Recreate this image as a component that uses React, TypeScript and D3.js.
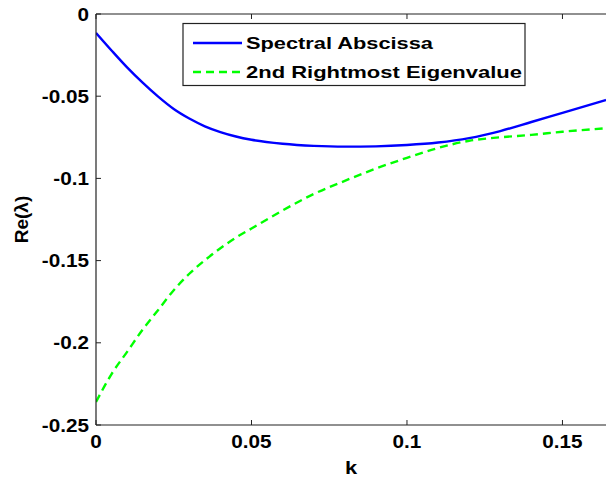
import React from "react";
import * as d3 from "d3";

const kValues = [0, 0.005, 0.01, 0.015, 0.02, 0.025, 0.03, 0.035, 0.04, 0.045, 0.05, 0.06, 0.07, 0.08, 0.09, 0.1, 0.11, 0.12, 0.13, 0.14, 0.15, 0.164];
const spectralAbscissa = [-0.0115, -0.0222, -0.0325, -0.0418, -0.0503, -0.0578, -0.0636, -0.0683, -0.0718, -0.0745, -0.0765, -0.0789, -0.0802, -0.0807, -0.0805, -0.0797, -0.0782, -0.0755, -0.0712, -0.0657, -0.0601, -0.0523];
const secondRightmost = [-0.236, -0.219, -0.2055, -0.192, -0.18, -0.168, -0.158, -0.1498, -0.1425, -0.136, -0.1305, -0.1195, -0.1095, -0.1015, -0.094, -0.0875, -0.0815, -0.0771, -0.075, -0.0735, -0.0716, -0.0695];
const xTicks = [0, 0.05, 0.1, 0.15];
const xTickLabels = ["0", "0.05", "0.1", "0.15"];
const yTicks = [0, -0.05, -0.1, -0.15, -0.2, -0.25];
const yTickLabels = ["0", "-0.05", "-0.1", "-0.15", "-0.2", "-0.25"];
const seriesNames = ["Spectral Abscissa", "2nd Rightmost Eigenvalue"];

const W = 606;
const H = 478;
const L = 96, R = 606, T = 14, B = 425;
const FONT = "'Liberation Sans', Arial, Helvetica, sans-serif";

export default function App() {
  const x = d3.scaleLinear().domain([0, 0.164]).range([L, R]);
  const y = d3.scaleLinear().domain([-0.25, 0]).range([B, T]);
  const line = d3
    .line<[number, number]>()
    .x((d) => x(d[0]))
    .y((d) => y(d[1]))
    .curve(d3.curveMonotoneX);
  const blue = line(kValues.map((k, i) => [k, spectralAbscissa[i]]) as [number, number][]) || "";
  const green = line(kValues.map((k, i) => [k, secondRightmost[i]]) as [number, number][]) || "";
  const sx = 1.15;

  return (
    <svg width={W} height={H} style={{ position: "absolute", left: 0, top: 0, background: "#fff" }} fontFamily={FONT}>
      <rect x={0} y={0} width={W} height={H} fill="#fff" />
      <defs>
        <clipPath id="plotclip">
          <rect x={L} y={T} width={R - L} height={B - T} />
        </clipPath>
      </defs>
      <g clipPath="url(#plotclip)">
        <path d={blue} fill="none" stroke="#0000ff" strokeWidth={2.4} />
        <path d={green} fill="none" stroke="#00ff00" strokeWidth={2.4} strokeDasharray="8,5" />
      </g>
      <line x1={L} x2={R} y1={T} y2={T} stroke="#222" strokeWidth={1.2} />
      <line x1={L} x2={R} y1={B} y2={B} stroke="#222" strokeWidth={1.2} />
      <line x1={L} x2={L} y1={T} y2={B} stroke="#222" strokeWidth={1.2} />
      {xTicks.map((t, i) => (
        <g key={"xt" + i}>
          <line x1={x(t)} x2={x(t)} y1={B} y2={B - 5} stroke="#222" strokeWidth={1} />
          <line x1={x(t)} x2={x(t)} y1={T} y2={T + 5} stroke="#222" strokeWidth={1} />
          <text
            transform={`translate(${x(t)},448) scale(${sx},1)`}
            textAnchor="middle"
            fontSize={18}
            fontWeight="bold"
            fill="#000"
          >
            {xTickLabels[i]}
          </text>
        </g>
      ))}
      {yTicks.map((t, i) => (
        <g key={"yt" + i}>
          <line x1={L} x2={L + 5} y1={y(t)} y2={y(t)} stroke="#222" strokeWidth={1} />
          <text
            transform={`translate(89,${y(t) + 6.5}) scale(${sx},1)`}
            textAnchor="end"
            fontSize={18}
            fontWeight="bold"
            fill="#000"
          >
            {yTickLabels[i]}
          </text>
        </g>
      ))}
      <text transform={`translate(${(L + R) / 2},474) scale(${sx},1)`} textAnchor="middle" fontSize={19} fontWeight="bold">
        k
      </text>
      <text transform={`translate(28,${(T + B) / 2}) rotate(-90)`} textAnchor="middle" fontSize={19} fontWeight="bold">
        Re(λ)
      </text>
      <rect x={183} y={23.5} width={342} height={62} fill="#fff" stroke="#222" strokeWidth={1.2} />
      <line x1={193} x2={242} y1={43} y2={43} stroke="#0000ff" strokeWidth={2.4} />
      <line x1={193} x2={242} y1={72} y2={72} stroke="#00ff00" strokeWidth={2.4} strokeDasharray="8,5" />
      <text x={246} y={49} fontSize={17} fontWeight="bold" textLength={187} lengthAdjust="spacingAndGlyphs">
        {seriesNames[0]}
      </text>
      <text x={246} y={78} fontSize={17} fontWeight="bold" textLength={276} lengthAdjust="spacingAndGlyphs">
        {seriesNames[1]}
      </text>
    </svg>
  );
}
